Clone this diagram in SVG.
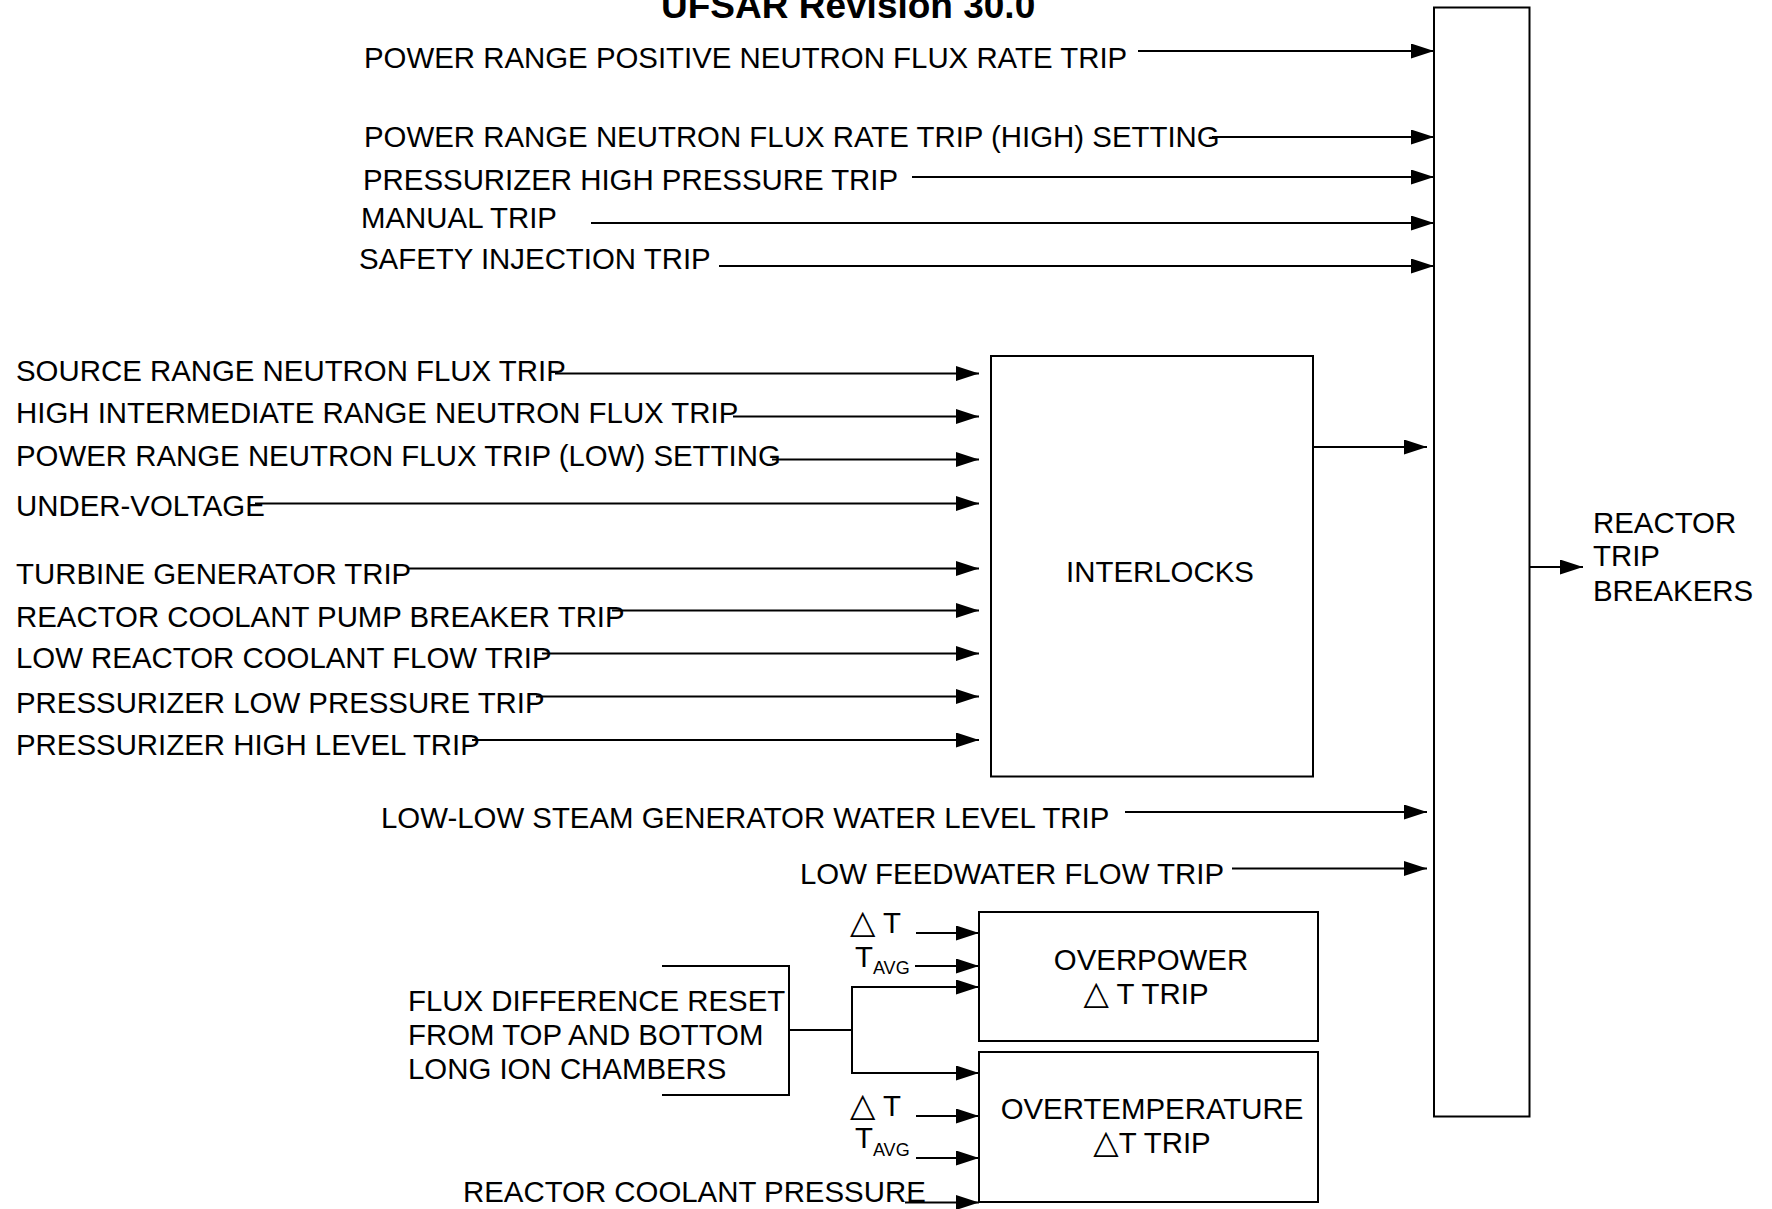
<svg xmlns="http://www.w3.org/2000/svg" width="1772" height="1209" viewBox="0 0 1772 1209">
<defs>
<marker id="arr" viewBox="0 0 23 15" markerUnits="userSpaceOnUse" markerWidth="23" markerHeight="15" refX="23" refY="7.5" orient="auto">
<path d="M0,0 L23,7.5 L0,15 Z" fill="#000"/>
</marker>
</defs>
<style>
text{font-family:"Liberation Sans",Arial,"DejaVu Sans",sans-serif;font-size:29.4px;fill:#000}
.title{font-weight:bold;font-size:37px}
.sub{font-size:18px}
.tri{font-family:"DejaVu Sans",sans-serif;font-size:33px}
.box{fill:#fff;stroke:#000;stroke-width:2}
.c line,.c polyline{stroke:#000;stroke-width:2;fill:none}
.a{marker-end:url(#arr)}
</style>
<rect width="1772" height="1209" fill="#fff"/>
<text class="title" x="661" y="18">UFSAR Revision 30.0</text>

<g id="trip-bus"><rect class="box" x="1434" y="7.5" width="95.5" height="1109"/></g>
<g id="interlocks"><rect class="box" x="991" y="356" width="322" height="420.5"/><text x="1160" y="582" text-anchor="middle">INTERLOCKS</text></g>
<g id="overpower"><rect class="box" x="979" y="912" width="339" height="129"/><text x="1151" y="970" text-anchor="middle">OVERPOWER</text><text x="1146" y="1004" text-anchor="middle"><tspan class="tri">△</tspan> T TRIP</text></g>
<g id="overtemperature"><rect class="box" x="979" y="1052" width="339" height="150"/><text x="1152" y="1119" text-anchor="middle">OVERTEMPERATURE</text><text x="1152" y="1153" text-anchor="middle"><tspan class="tri">△</tspan>T TRIP</text></g>
<g id="breakers"><text x="1593" y="533">REACTOR</text><text x="1593" y="566">TRIP</text><text x="1593" y="601">BREAKERS</text></g>

<g id="labels">
<text x="364" y="68">POWER RANGE POSITIVE NEUTRON FLUX RATE TRIP</text>
<text x="364" y="147">POWER RANGE NEUTRON FLUX RATE TRIP (HIGH) SETTING</text>
<text x="363" y="190">PRESSURIZER HIGH PRESSURE TRIP</text>
<text x="361" y="228">MANUAL TRIP</text>
<text x="359" y="269">SAFETY INJECTION TRIP</text>
<text x="16" y="381">SOURCE RANGE NEUTRON FLUX TRIP</text>
<text x="16" y="423">HIGH INTERMEDIATE RANGE NEUTRON FLUX TRIP</text>
<text x="16" y="466">POWER RANGE NEUTRON FLUX TRIP (LOW) SETTING</text>
<text x="16" y="516">UNDER-VOLTAGE</text>
<text x="16" y="584">TURBINE GENERATOR TRIP</text>
<text x="16" y="627">REACTOR COOLANT PUMP BREAKER TRIP</text>
<text x="16" y="668">LOW REACTOR COOLANT FLOW TRIP</text>
<text x="16" y="713">PRESSURIZER LOW PRESSURE TRIP</text>
<text x="16" y="755">PRESSURIZER HIGH LEVEL TRIP</text>
<text x="381" y="828">LOW-LOW STEAM GENERATOR WATER LEVEL TRIP</text>
<text x="800" y="884">LOW FEEDWATER FLOW TRIP</text>
<text x="408" y="1011">FLUX DIFFERENCE RESET</text>
<text x="408" y="1045">FROM TOP AND BOTTOM</text>
<text x="408" y="1079">LONG ION CHAMBERS</text>
<text x="463" y="1202">REACTOR COOLANT PRESSURE</text>
<text x="850" y="933"><tspan class="tri">△</tspan> T</text>
<text x="855" y="967">T<tspan class="sub" dy="7">AVG</tspan></text>
<text x="850" y="1116"><tspan class="tri">△</tspan> T</text>
<text x="855" y="1148">T<tspan class="sub" dy="8">AVG</tspan></text>
</g>

<g id="connectors" class="c">
<line class="a" x1="1138" y1="51" x2="1434" y2="51"/>
<line class="a" x1="1212" y1="137" x2="1434" y2="137"/>
<line class="a" x1="912" y1="177" x2="1434" y2="177"/>
<line class="a" x1="591" y1="223" x2="1434" y2="223"/>
<line class="a" x1="719" y1="266" x2="1434" y2="266"/>
<line class="a" x1="555" y1="373.5" x2="979" y2="373.5"/>
<line class="a" x1="733" y1="416.5" x2="979" y2="416.5"/>
<line class="a" x1="772" y1="459.5" x2="979" y2="459.5"/>
<line class="a" x1="255" y1="503.5" x2="979" y2="503.5"/>
<line class="a" x1="408" y1="568.5" x2="979" y2="568.5"/>
<line class="a" x1="612" y1="610.5" x2="979" y2="610.5"/>
<line class="a" x1="542" y1="653.5" x2="979" y2="653.5"/>
<line class="a" x1="536" y1="696.5" x2="979" y2="696.5"/>
<line class="a" x1="472" y1="740" x2="979" y2="740"/>
<line class="a" x1="1313" y1="447" x2="1427" y2="447"/>
<line class="a" x1="1125" y1="812" x2="1427" y2="812"/>
<line class="a" x1="1232" y1="868.5" x2="1427" y2="868.5"/>
<line class="a" x1="1529.5" y1="567" x2="1583" y2="567"/>
<polyline points="662,966 789,966 789,1095 662,1095"/>
<line x1="789" y1="1030" x2="852" y2="1030"/>
<line x1="852" y1="987" x2="852" y2="1073"/>
<line class="a" x1="851" y1="987" x2="979" y2="987"/>
<line class="a" x1="851" y1="1073" x2="979" y2="1073"/>
<line class="a" x1="916" y1="933" x2="979" y2="933"/>
<line class="a" x1="915" y1="966" x2="979" y2="966"/>
<line class="a" x1="916" y1="1116" x2="979" y2="1116"/>
<line class="a" x1="916" y1="1158" x2="979" y2="1158"/>
<line class="a" x1="905" y1="1202.5" x2="979" y2="1202.5"/>
</g>
</svg>
